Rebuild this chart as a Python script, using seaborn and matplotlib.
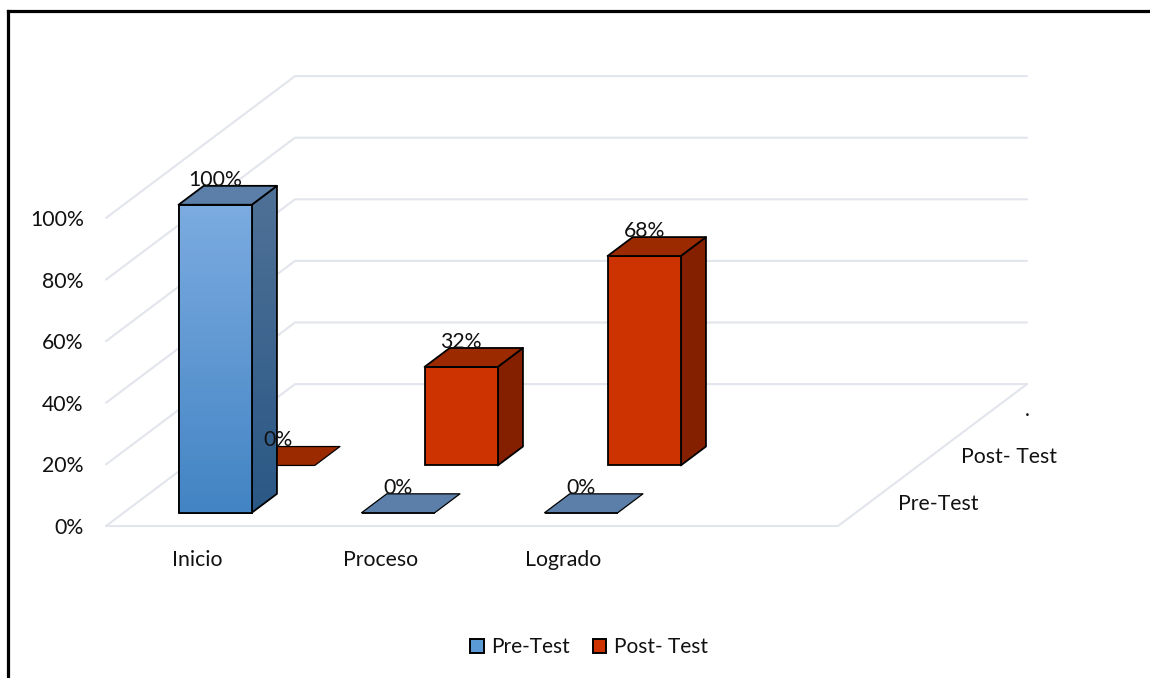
import numpy as np
import pandas as pd
import matplotlib
matplotlib.use("Agg")
import matplotlib.pyplot as plt
from matplotlib.colors import LinearSegmentedColormap
from matplotlib.lines import Line2D
from matplotlib.patches import Patch, Polygon
import seaborn as sns

# Chart data
categories = ["Inicio", "Proceso", "Logrado", " "]
depth_labels = ["Pre-Test", "Post- Test", "."]
value_ticks = [0, 20, 40, 60, 80, 100]
pre_test = [100, 0, 0]
post_test = [0, 32, 68]

W, H = 1150, 678
DPI = 100

# Oblique depth axis, expressed in category and value units per series slot
SLOT_DX = 63 / 183
SLOT_DY = 47.3 / 3.08
SLOT_COUNT = 3
BAR_OFFSET = 0.28
BAR_DEPTH = 0.40

GRID = "#E2E5EC"
INK = "#000000"
TEXT = "#111111"


def project(x, v, d):
    return x + d * SLOT_DX, v + d * SLOT_DY


sns.set_theme(style="white")
plt.rcParams["font.family"] = ["Lato", "DejaVu Sans"]
FS = 15.3

fig = plt.figure(figsize=(W / DPI, H / DPI), dpi=DPI, facecolor="white")
ax = fig.add_axes([106 / W, (H - 526) / H, 732 / W, 308 / H])
ax.patch.set_alpha(0)


def shaded(poly, top, bottom, z):
    """Fill a polygon with a vertical gradient and an outline."""
    cmap = LinearSegmentedColormap.from_list("shade", [top, bottom])
    xs, ys = zip(*poly)
    im = ax.imshow(np.linspace(0, 1, 64).reshape(-1, 1), cmap=cmap, aspect="auto",
                   origin="upper", extent=[min(xs), max(xs), min(ys), max(ys)],
                   zorder=z)
    outline = Polygon(poly, closed=True, fc="none", ec=INK, lw=1.3, zorder=z + 0.1,
                      joinstyle="round", clip_on=False)
    ax.add_patch(outline)
    # The box rises above the value range, so only the polygon limits the image
    im.set_clip_box(fig.bbox)
    im.set_clip_path(Polygon(poly, closed=True, transform=ax.transData))


def draw_series(values, slot, colors, z):
    frame = pd.DataFrame({"nivel": categories[:len(values)], "porcentaje": values})
    before = len(ax.patches)
    sns.barplot(data=frame, x="nivel", y="porcentaje", order=categories, width=0.4,
                color=colors["front"][0], saturation=1, errorbar=None, ax=ax,
                edgecolor=INK, linewidth=1.3, zorder=z + 0.2)
    bars = [b for b in ax.patches[before:] if np.isfinite(b.get_height())]
    d0 = slot + BAR_OFFSET
    d1 = d0 + BAR_DEPTH
    for bar in bars:
        x0, w, v = bar.get_x(), bar.get_width(), bar.get_height()
        x1 = x0 + w
        fl = project(x0, 0, d0)
        fr = project(x1, 0, d0)
        tl = project(x0, v, d0)
        tr = project(x1, v, d0)
        br = project(x1, 0, d1)
        tbr = project(x1, v, d1)
        tbl = project(x0, v, d1)
        bar.set_x(fl[0])
        bar.set_y(fl[1])
        bar.set_clip_on(False)
        if v > 0:
            shaded([fr, br, tbr, tr], *colors["side"], z)
            if colors["front"][0] != colors["front"][1]:
                shaded([fl, fr, tr, tl], *colors["front"], z + 0.3)
        ax.add_patch(Polygon([tl, tr, tbr, tbl], closed=True, fc=colors["top"], ec=INK,
                             lw=1.3 if v > 0 else 0.9, zorder=z + 0.4, clip_on=False,
                             joinstyle="round"))
        ax.annotate(f"{v:.0f}%", xy=((tl[0] + tr[0]) / 2, tl[1]), xytext=(0, 25),
                    textcoords="offset pixels", ha="center", va="center",
                    fontsize=FS, color=TEXT, zorder=20, annotation_clip=False)


# Left wall, back wall and floor lines
for v in value_ticks:
    xs, ys = zip(project(-0.5, v, 0), project(-0.5, v, SLOT_COUNT), project(3.5, v, SLOT_COUNT))
    ax.plot(xs, ys, color=GRID, lw=1.5, clip_on=False, zorder=1, solid_joinstyle="miter")
floor = [project(-0.5, 0, 0), project(3.5, 0, 0), project(3.5, 0, SLOT_COUNT)]
ax.plot(*zip(*floor), color=GRID, lw=1.5, clip_on=False, zorder=1)

draw_series(post_test, 1,
            {"front": ("#CC3300", "#CC3300"), "side": ("#842000", "#842000"), "top": "#9C2A00"}, 3)
draw_series(pre_test, 0,
            {"front": ("#7BABE0", "#4384C4"), "side": ("#4F7197", "#2A5885"), "top": "#5B7FA8"}, 6)

ax.set_xlim(-0.5, 3.5)
ax.set_ylim(0, 100)
ax.set_xlabel("")
ax.set_ylabel("")
ax.set_yticks(value_ticks, [f"{v}%" for v in value_ticks])
ax.set_xticks(range(len(categories)), categories)
ax.tick_params(axis="y", length=0, pad=16, labelsize=FS, labelcolor=TEXT)
ax.tick_params(axis="x", length=0, pad=17, labelsize=FS, labelcolor=TEXT)
sns.despine(ax=ax, left=True, bottom=True)

# Series names along the depth axis
for i, name in enumerate(depth_labels):
    xy = project(3.5, 0, i + 0.5)
    ax.annotate(name, xy=xy, xytext=(29, -2), textcoords="offset pixels", ha="left",
                va="center", fontsize=FS, color=TEXT, annotation_clip=False)

handles = [Patch(fc="#5B9BD5", ec=INK, lw=1.4, label=depth_labels[0]),
           Patch(fc="#CC3300", ec=INK, lw=1.4, label=depth_labels[1])]
fig.legend(handles=handles, loc="center", bbox_to_anchor=(589 / W, (H - 647) / H), ncols=2,
           frameon=False, fontsize=15, handlelength=0.66, handleheight=0.66,
           handletextpad=0.36, columnspacing=1.08, labelcolor=TEXT)

# Chart border along the top and left edges
border = dict(color=INK, lw=2.3, transform=fig.transFigure, solid_capstyle="projecting")
fig.add_artist(Line2D([8 / W, 1], [(H - 10.5) / H] * 2, **border))
fig.add_artist(Line2D([8 / W] * 2, [0, (H - 10.5) / H], **border))

fig.savefig("out.png", dpi=DPI, facecolor="white")
